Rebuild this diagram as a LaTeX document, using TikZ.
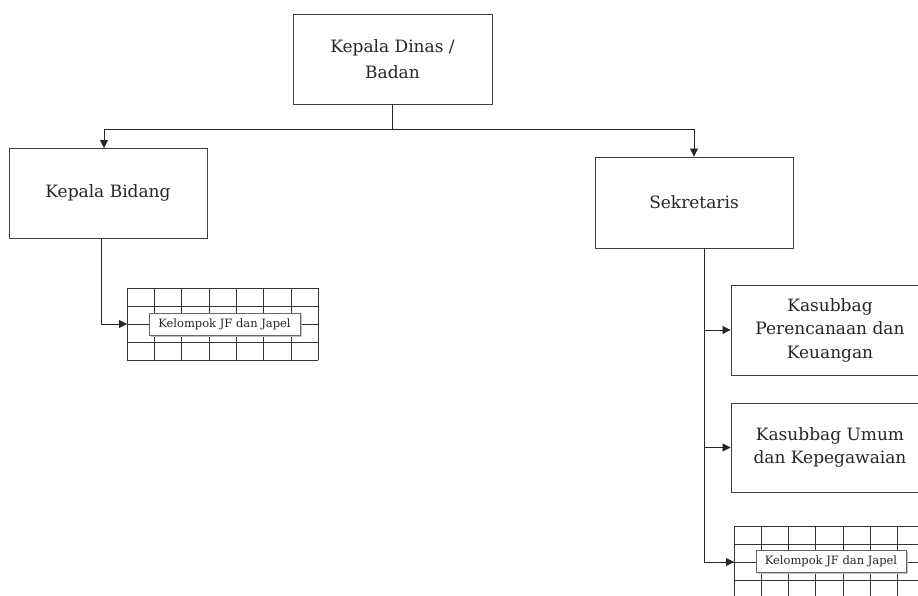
\documentclass[tikz,border=0pt]{standalone}
\usepackage{fontspec}
\setmainfont{DejaVu Serif}
\usetikzlibrary{arrows.meta}
\begin{document}
\begin{tikzpicture}[x=1pt,y=-1pt,
  box/.style={draw=black!75,line width=0.9pt,fill=white,inner sep=0pt,align=center,font=\fontsize{17}{26}\selectfont,text=black!85},
  conn/.style={draw=black!85,line width=0.8pt},
  arr/.style={conn,-{Triangle[length=8pt,width=8pt]}},
  gridln/.style={draw=black!80,line width=0.6pt},
  lbl/.style={draw=black!60,line width=0.6pt,fill=white,inner sep=0pt,font=\fontsize{11.5}{12}\selectfont,text=black!85}
]
\useasboundingbox (0,0) rectangle (918,595);
\begin{scope}
\clip (0,0) rectangle (918,595);
% boxes
\node[box,minimum width=199pt,minimum height=90pt] (kd) at (392.5,59) {Kepala Dinas /\\Badan};
\node[box,minimum width=198pt,minimum height=90pt] (kb) at (108,193) {Kepala Bidang};
\node[box,minimum width=198pt,minimum height=91pt] (sk) at (694,202.5) {Sekretaris};
\node[box,minimum width=198pt,minimum height=90pt,font=\fontsize{17}{23.5}\selectfont] (kp) at (830,330) {Kasubbag\\Perencanaan dan\\Keuangan};
\node[box,minimum width=198pt,minimum height=89pt,font=\fontsize{17}{23.5}\selectfont] (ku) at (830,447.5) {Kasubbag Umum\\dan Kepegawaian};
% grids
\foreach \x in {127,154.3,181.6,208.9,236.2,263.5,290.8,318} \draw[gridln] (\x,288) -- (\x,360);
\foreach \y in {288,306,324,342,360} \draw[gridln] (127,\y) -- (318,\y);
\coordinate (g1) at (127,324);
\foreach \i in {0,...,7} \draw[gridln] (734+27.2*\i,526) -- (734+27.2*\i,600);
\foreach \y in {526,544,562,580,598} \draw[gridln] (734,\y) -- (930,\y);
\coordinate (g2) at (734,562);
% labels
\fill[black!25] (151,315) rectangle (302,337);
\node[lbl,minimum width=151pt,minimum height=22pt] (l1) at (224.5,324) {Kelompok JF dan Japel};
\fill[black!25] (758,552) rectangle (908,574);
\node[lbl,minimum width=150pt,minimum height=22pt] (l2) at (831,561) {Kelompok JF dan Japel};
% connectors
\coordinate (j) at (392.5,129);
\coordinate (kbt) at (104,148);
\draw[conn] (kd.south) -- (j);
\draw[arr] (j) -| (kbt);
\draw[arr] (j) -| (sk.north);
\coordinate (kbs) at (101,238);
\draw[arr] (kbs) |- (g1);
\coordinate (sks) at (704,248);
\draw[conn] (sks) |- (g2);
\draw[arr] (704,330) -- (kp.west);
\draw[arr] (704,447.5) -- (ku.west);
\draw[arr] (704,562) -- (g2);
\end{scope}
\end{tikzpicture}
\end{document}
